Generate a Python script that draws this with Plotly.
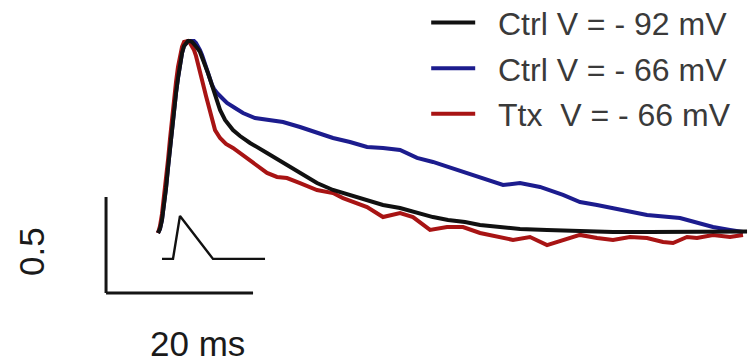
import plotly.graph_objects as go

# ---- data (time in ms, normalized response) ----
black_t = [0, 0.27, 0.54, 0.82, 1.09, 1.36, 1.63, 1.90, 2.18, 2.45, 2.72, 2.99, 3.27, 3.54, 3.81, 4.08, 4.35, 4.63, 4.90, 5.17,
           5.44, 5.71, 5.99, 6.26, 6.53, 6.80, 7.07, 7.48, 8.03, 8.44, 9.12, 10.20, 11.16, 12.52, 14.83, 17.01, 19.32, 21.63, 23.81, 26.12,
           28.44, 30.61, 32.93, 35.24, 37.41, 39.46, 41.77, 43.81, 46.53, 49.25, 52.93, 57.41, 61.90, 66.94, 71.02, 75.10, 79.59, 80.14]
black_v = [0.000, 0.021, 0.068, 0.146, 0.234, 0.339, 0.443, 0.547, 0.641, 0.729, 0.807, 0.880, 0.938, 0.974, 0.990, 1.000, 1.000, 0.995, 0.984, 0.974,
           0.958, 0.943, 0.917, 0.891, 0.865, 0.833, 0.802, 0.755, 0.693, 0.641, 0.589, 0.536, 0.505, 0.469, 0.417, 0.365, 0.313, 0.260, 0.224, 0.198,
           0.172, 0.146, 0.130, 0.104, 0.083, 0.068, 0.057, 0.042, 0.031, 0.021, 0.016, 0.010, 0.005, 0.005, 0.005, 0.010, 0.010, 0.008]

blue_t = [0, 0.27, 0.54, 0.82, 1.09, 1.36, 1.63, 1.90, 2.18, 2.45, 2.72, 2.99, 3.27, 3.54, 3.81, 4.08, 4.35, 4.63, 4.90, 5.17,
          5.44, 5.71, 5.99, 6.26, 6.53, 6.80, 7.07, 7.35, 7.62, 8.03, 8.71, 9.39, 10.48, 11.56, 13.20, 14.83, 17.01, 19.32, 21.63, 23.81,
          26.12, 28.44, 30.61, 32.93, 35.24, 37.41, 39.46, 41.50, 43.81, 46.94, 49.25, 51.97, 55.10, 57.41, 59.73, 61.90, 64.22, 66.53, 71.02, 73.33,
          75.51, 77.82, 79.59]
blue_v = [0.000, 0.021, 0.068, 0.146, 0.234, 0.339, 0.443, 0.547, 0.641, 0.729, 0.807, 0.880, 0.938, 0.974, 0.990, 0.998, 1.000, 1.000, 1.000, 0.990,
          0.974, 0.953, 0.927, 0.896, 0.859, 0.823, 0.797, 0.771, 0.750, 0.729, 0.703, 0.677, 0.651, 0.625, 0.599, 0.589, 0.578, 0.552, 0.521, 0.495,
          0.474, 0.448, 0.443, 0.432, 0.391, 0.370, 0.344, 0.318, 0.292, 0.250, 0.260, 0.240, 0.198, 0.161, 0.146, 0.130, 0.109, 0.094, 0.078, 0.052,
          0.031, 0.016, 0.005]

red_t = [0, 0.27, 0.54, 0.82, 1.09, 1.36, 1.63, 1.90, 2.18, 2.45, 2.72, 2.99, 3.27, 3.54, 3.81, 4.08, 4.35, 4.63, 4.90, 5.17,
         5.44, 5.71, 5.99, 6.26, 6.53, 6.80, 7.07, 7.35, 7.76, 8.44, 9.25, 10.20, 12.52, 14.83, 16.19, 17.55, 19.32, 21.63, 23.81, 25.17,
         28.44, 30.61, 32.93, 34.69, 37.01, 39.32, 41.50, 43.81, 48.30, 50.61, 52.93, 55.10, 57.41, 59.73, 61.90, 64.22, 66.53, 68.71, 70.07, 71.97,
         73.33, 75.51, 77.82, 79.59]
red_v = [0.000, 0.036, 0.099, 0.182, 0.276, 0.380, 0.490, 0.599, 0.698, 0.786, 0.865, 0.927, 0.969, 0.995, 1.000, 1.000, 0.990, 0.974, 0.953, 0.922,
         0.885, 0.844, 0.802, 0.755, 0.714, 0.672, 0.630, 0.589, 0.536, 0.495, 0.464, 0.443, 0.380, 0.313, 0.292, 0.286, 0.260, 0.224, 0.208, 0.182,
         0.135, 0.083, 0.104, 0.083, 0.016, 0.031, 0.031, 0.000, -0.036, -0.021, -0.063, -0.036, -0.010, -0.026, -0.036, -0.021, -0.026, -0.047, -0.052, -0.021,
         -0.026, -0.010, -0.021, -0.010]

stim_t = [0.54, 2.04, 2.99, 7.48, 14.56]
stim_v = [-0.135, -0.135, 0.089, -0.135, -0.135]

series_names = ["Ctrl V = - 92 mV", "Ctrl V = - 66 mV", "Ttx\u00a0 V = - 66 mV"]

# scale bar sizes (data units)
bar_ms = 20
bar_amp = 0.5
bar_x0 = -7.07
bar_y0 = -0.3125

BLACK = "#111111"
BLUE = "#1c1c8e"
RED = "#a81414"
PAD = "\u00a0\u00a0"

fig = go.Figure()
fig.add_trace(go.Scatter(x=blue_t, y=blue_v, mode="lines", name=PAD + series_names[1], legendgroup="b",
                         line=dict(color=BLUE, width=4), legendrank=2))
fig.add_trace(go.Scatter(x=red_t, y=red_v, mode="lines", name=PAD + series_names[2], legendgroup="r",
                         line=dict(color=RED, width=4), legendrank=3))
fig.add_trace(go.Scatter(x=black_t, y=black_v, mode="lines", name=PAD + series_names[0], legendgroup="k",
                         line=dict(color=BLACK, width=4), legendrank=1))
fig.add_trace(go.Scatter(x=stim_t, y=stim_v, mode="lines", showlegend=False,
                         line=dict(color=BLACK, width=2.4)))

# scale bar
fig.add_shape(type="line", x0=bar_x0, x1=bar_x0, y0=bar_y0, y1=bar_y0 + bar_amp,
              line=dict(color="#151515", width=3))
fig.add_shape(type="line", x0=bar_x0, x1=bar_x0 + bar_ms, y0=bar_y0, y1=bar_y0,
              line=dict(color="#151515", width=3))

fig.add_annotation(x=5.44, y=-0.578, text="20 ms", showarrow=False,
                   font=dict(family="Liberation Sans, Arial", size=35, color="#1a1a1a"))
fig.add_annotation(x=-17.28, y=-0.099, text="0.5", showarrow=False, textangle=-90,
                   font=dict(family="Liberation Sans, Arial", size=35, color="#1a1a1a"))

fig.update_layout(
    width=753, height=364,
    margin=dict(l=0, r=0, t=0, b=0, autoexpand=False),
    paper_bgcolor="white", plot_bgcolor="white",
    xaxis=dict(range=[-21.497, 80.95], visible=False, fixedrange=True),
    yaxis=dict(range=[-0.6823, 1.2135], visible=False, fixedrange=True),
    showlegend=True,
    legend=dict(x=0.566, y=1.013, xanchor="left", yanchor="top",
                font=dict(family="Liberation Sans, Arial", size=32, color="#3a3a3a"),
                bgcolor="rgba(0,0,0,0)", itemwidth=44, tracegroupgap=1),
)

fig.write_html("out.html", config={"displayModeBar": False},
               post_script="document.body.style.margin='0px';")
